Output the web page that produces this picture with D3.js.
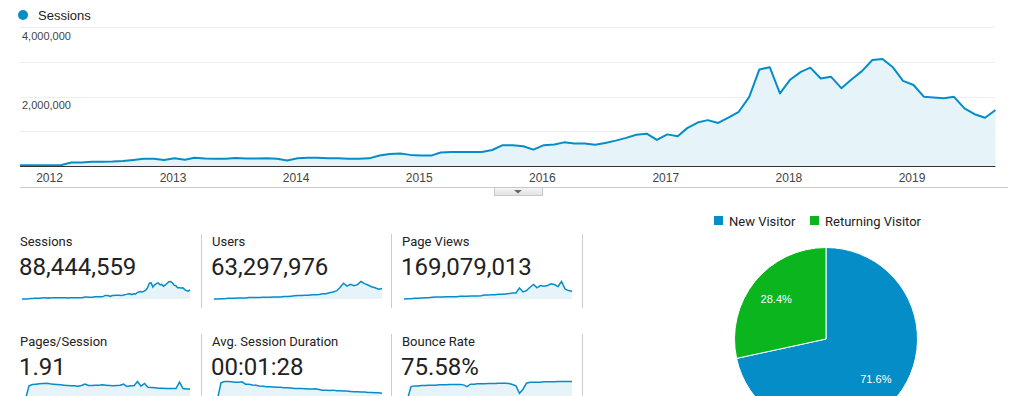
<!DOCTYPE html>
<html>
<head>
<meta charset="utf-8">
<script src="https://cdn.jsdelivr.net/npm/d3@7"></script>
<style>
  body { margin: 0; background: #fff; }
  svg { display: block; }
</style>
</head>
<body>
<div id="dash"></div>
<script>
// monthly sessions, Oct 2011 .. Sep 2019 (millions)
var sessionMonths = d3.timeMonths(new Date(2011, 9, 1), new Date(2019, 9, 1));
var sessions = [0.02, 0.02, 0.02, 0.02, 0.03, 0.10, 0.10, 0.12, 0.125, 0.13, 0.145, 0.175,
  0.21, 0.21, 0.175, 0.22, 0.18, 0.24, 0.215, 0.21, 0.21, 0.23, 0.215, 0.215,
  0.22, 0.21, 0.16, 0.22, 0.24, 0.235, 0.225, 0.22, 0.21, 0.21, 0.22, 0.30,
  0.345, 0.36, 0.32, 0.30, 0.30, 0.39, 0.40, 0.40, 0.40, 0.40, 0.46, 0.60,
  0.60, 0.57, 0.47, 0.60, 0.62, 0.68, 0.65, 0.65, 0.61, 0.66, 0.73, 0.81,
  0.90, 0.93, 0.75, 0.91, 0.855, 1.09, 1.25, 1.32, 1.24, 1.39, 1.56, 1.99,
  2.78, 2.84, 2.09, 2.49, 2.71, 2.83, 2.52, 2.57, 2.24, 2.49, 2.73, 3.05,
  3.08, 2.84, 2.45, 2.33, 1.99, 1.97, 1.95, 1.99, 1.66, 1.49, 1.39, 1.61];

var yTicks = [0, 1e6, 2e6, 3e6, 4e6];
var yLabels = [2e6, 4e6];
var yearTicks = [2012, 2013, 2014, 2015, 2016, 2017, 2018, 2019];

// sparkline series (49 samples over the same period)
var users = [0, 0, 38, 38, 77, 77, 77, 115, 115, 115, 154, 154, 154, 154, 192, 192, 192,
  231, 231, 231, 270, 270, 308, 346, 385, 385, 423, 423, 462, 462, 500, 578, 578, 693,
  770, 885, 1270, 1733, 1424, 1617, 1463, 1578, 1925, 1694, 1540, 1348, 1232, 1078, 1155];
var pageViews = [0, 0.1, 0.1, 0.2, 0.2, 0.3, 0.4, 0.4, 0.5, 0.6, 0.6, 0.6, 0.7, 0.7, 0.7,
  0.7, 0.8, 0.8, 0.8, 0.9, 0.9, 0.9, 1.0, 1.2, 1.2, 1.3, 1.3, 1.4, 1.4, 1.5, 1.6, 1.8,
  1.8, 3.3, 2.1, 2.5, 3.5, 4.3, 3.3, 4.0, 3.8, 4.0, 4.5, 4.3, 3.7, 5.2, 3.0, 2.5, 2.3];
var pagesPerSession = [0, 0, 2.28, 2.51, 2.57, 2.63, 2.68, 2.74, 2.63, 2.57, 2.51, 2.45,
  2.39, 2.33, 2.28, 2.28, 2.22, 2.33, 2.57, 2.33, 2.33, 2.39, 2.39, 2.45, 2.39, 2.33,
  2.28, 2.33, 2.39, 2.57, 2.16, 2.28, 2.28, 3.03, 2.22, 2.68, 2.04, 1.98, 1.93, 1.87,
  1.87, 1.81, 1.81, 1.81, 1.81, 2.92, 1.81, 1.75, 1.75];
var sessionDuration = [0, 0, 138, 150, 150, 147, 144, 144, 147, 127, 127, 121, 118, 112,
  109, 106, 106, 103, 100, 100, 97, 97, 94, 91, 91, 91, 88, 85, 85, 88, 82, 76, 76, 73,
  76, 70, 70, 68, 68, 65, 62, 62, 59, 59, 56, 56, 53, 53, 50];
var bounceRate = [0, 0, 56.9, 60.0, 60.0, 61.5, 61.5, 63.1, 63.1, 63.1, 64.6, 64.6, 64.6,
  66.2, 66.2, 66.2, 66.2, 64.6, 56.9, 67.7, 67.7, 69.2, 69.2, 69.2, 70.8, 70.8, 70.8,
  72.3, 72.3, 72.3, 70.8, 66.2, 60.0, 26.2, 44.6, 72.3, 76.9, 76.9, 76.9, 76.9, 78.5,
  78.5, 78.5, 78.5, 80.0, 80.0, 80.0, 80.0, 80.0];

var cardLabels = ["Sessions", "Users", "Page Views", "Pages/Session", "Avg. Session Duration", "Bounce Rate"];
var cardValues = ["88,444,559", "63,297,976", "169,079,013", "1.91", "00:01:28", "75.58%"];
var cardSeries = [sessions, users, pageViews, pagesPerSession, sessionDuration, bounceRate];

var visitorTypes = ["New Visitor", "Returning Visitor"];
var visitorShare = [71.6, 28.4];

var blue = "#058dc7";
var green = "#0ab51e";
var width = 1029, height = 396;

var svg = d3.select("#dash").append("svg")
    .attr("width", width)
    .attr("height", height);

// ---- main sessions chart ----
var x = d3.scaleTime()
    .domain([sessionMonths[0], sessionMonths[sessionMonths.length - 1]])
    .range([20, 995.5]);
var y = d3.scaleLinear().domain([0, 4e6]).range([166, 27]);

svg.append("circle").attr("cx", 23).attr("cy", 15).attr("r", 5).attr("fill", blue);
svg.append("text")
    .text("Sessions")
    .attr("x", 38).attr("y", 19.5)
    .attr("font-family", "Liberation Sans, Arial")
    .attr("font-size", "13px")
    .attr("fill", "#222");

svg.append("g").selectAll("line")
    .data(yTicks.slice(1))
    .join("line")
    .attr("x1", 20).attr("x2", 995.5)
    .attr("y1", function(d){ return Math.round(y(d)) + 0.5; })
    .attr("y2", function(d){ return Math.round(y(d)) + 0.5; })
    .attr("stroke", "#eeeeee");

svg.append("g").selectAll("text")
    .data(yLabels)
    .join("text")
    .text(function(d){ return d3.format(",")(d); })
    .attr("x", 22)
    .attr("y", function(d){ return y(d) + 12.5; })
    .attr("font-family", "Liberation Sans, Arial")
    .attr("font-size", "11px")
    .attr("fill", "#444");

var area = d3.area()
    .x(function(d, i){ return x(sessionMonths[i]); })
    .y0(y(0))
    .y1(function(d){ return y(d * 1e6); });
var line = d3.line()
    .x(function(d, i){ return x(sessionMonths[i]); })
    .y(function(d){ return y(d * 1e6); });

svg.append("path").datum(sessions)
    .attr("d", area)
    .attr("fill", "#e6f3f9");
svg.append("path").datum(sessions)
    .attr("d", line)
    .attr("fill", "none")
    .attr("stroke", blue)
    .attr("stroke-width", 2)
    .attr("stroke-linejoin", "round");

// x axis
svg.append("line")
    .attr("x1", 20).attr("x2", 995.5)
    .attr("y1", 166.5).attr("y2", 166.5)
    .attr("stroke", "#333");
svg.append("g").selectAll("text")
    .data(yearTicks)
    .join("text")
    .text(function(d){ return d; })
    .attr("x", function(d){ return x(new Date(d, 0, 1)) - 1.5; })
    .attr("y", 181.5)
    .attr("text-anchor", "middle")
    .attr("font-family", "Liberation Sans, Arial")
    .attr("font-size", "12px")
    .attr("fill", "#444");

// toggle strip under the chart
svg.append("line")
    .attr("x1", 20).attr("x2", 1008)
    .attr("y1", 187.5).attr("y2", 187.5)
    .attr("stroke", "#cccccc");
var grad = svg.append("defs").append("linearGradient")
    .attr("id", "btn").attr("x1", 0).attr("x2", 0).attr("y1", 0).attr("y2", 1);
grad.append("stop").attr("offset", "0%").attr("stop-color", "#f6f6f6");
grad.append("stop").attr("offset", "100%").attr("stop-color", "#e2e2e2");
svg.append("rect")
    .attr("x", 494.5).attr("y", 187.5)
    .attr("width", 48).attr("height", 8)
    .attr("fill", "url(#btn)")
    .attr("stroke", "#c8c8c8");
svg.append("path")
    .attr("d", "M514,190 L522,190 L518,193.5 Z")
    .attr("fill", "#666");

// ---- scorecards ----
var colX = [20, 212, 402];
var rowY = [241, 341];
var dividerX = [201, 391, 582];

cardLabels.forEach(function(label, i){
    var cx = colX[i % 3], cy = rowY[Math.floor(i / 3)];
    var g = svg.append("g");
    g.append("text")
        .text(label)
        .attr("x", cx).attr("y", cy + 4.5)
        .attr("font-family", "Roboto")
        .attr("font-size", "13px")
        .attr("fill", "#222");
    g.append("text")
        .text(cardValues[i])
        .attr("x", cx - 1).attr("y", cy + 33.5)
        .attr("font-family", "Roboto")
        .attr("font-size", "24px")
        .attr("fill", "#222");

    var data = cardSeries[i];
    var sx = d3.scaleLinear().domain([0, data.length - 1]).range([cx + 2, cx + 170]);
    var sy = d3.scaleLinear().domain([0, d3.max(data)]).range([cy + 58, cy + 40.5]);
    g.append("path").datum(data)
        .attr("d", d3.area()
            .x(function(d, j){ return sx(j); })
            .y0(sy(0))
            .y1(function(d){ return sy(d); }))
        .attr("fill", "#e6f3f9");
    g.append("path").datum(data)
        .attr("d", d3.line()
            .x(function(d, j){ return sx(j); })
            .y(function(d){ return sy(d); }))
        .attr("fill", "none")
        .attr("stroke", blue)
        .attr("stroke-width", 1.5);
});

rowY.forEach(function(cy){
    svg.append("g").selectAll("line")
        .data(dividerX)
        .join("line")
        .attr("x1", function(d){ return d + 0.5; })
        .attr("x2", function(d){ return d + 0.5; })
        .attr("y1", cy - 7).attr("y2", cy + 67)
        .attr("stroke", "#cccccc");
});

// ---- visitor pie ----
var pieColors = [blue, green];
var legendX = [714, 810];
visitorTypes.forEach(function(t, i){
    svg.append("rect")
        .attr("x", legendX[i]).attr("y", 216)
        .attr("width", 9).attr("height", 9)
        .attr("fill", pieColors[i]);
    svg.append("text")
        .text(t)
        .attr("x", legendX[i] + 15).attr("y", 225.5)
        .attr("font-family", "Roboto")
        .attr("font-size", "13px")
        .attr("fill", "#222");
});

var pie = d3.pie().sort(null)(visitorShare);
var arc = d3.arc().innerRadius(0).outerRadius(91.5);
var pieG = svg.append("g").attr("transform", "translate(826,339)");
pieG.selectAll("path")
    .data(pie)
    .join("path")
    .attr("d", arc)
    .attr("fill", function(d, i){ return pieColors[i]; })
    .attr("stroke", "#fff")
    .attr("stroke-width", 1);
var labelArc = d3.arc().innerRadius(0).outerRadius(128);
pieG.selectAll("text")
    .data(pie)
    .join("text")
    .text(function(d){ return d.data.toFixed(1) + "%"; })
    .attr("transform", function(d){ return "translate(" + labelArc.centroid(d) + ")"; })
    .attr("dy", "0.35em")
    .attr("text-anchor", "middle")
    .attr("font-family", "Liberation Sans, Arial")
    .attr("font-size", "11px")
    .attr("fill", "#fff");
</script>
</body>
</html>
